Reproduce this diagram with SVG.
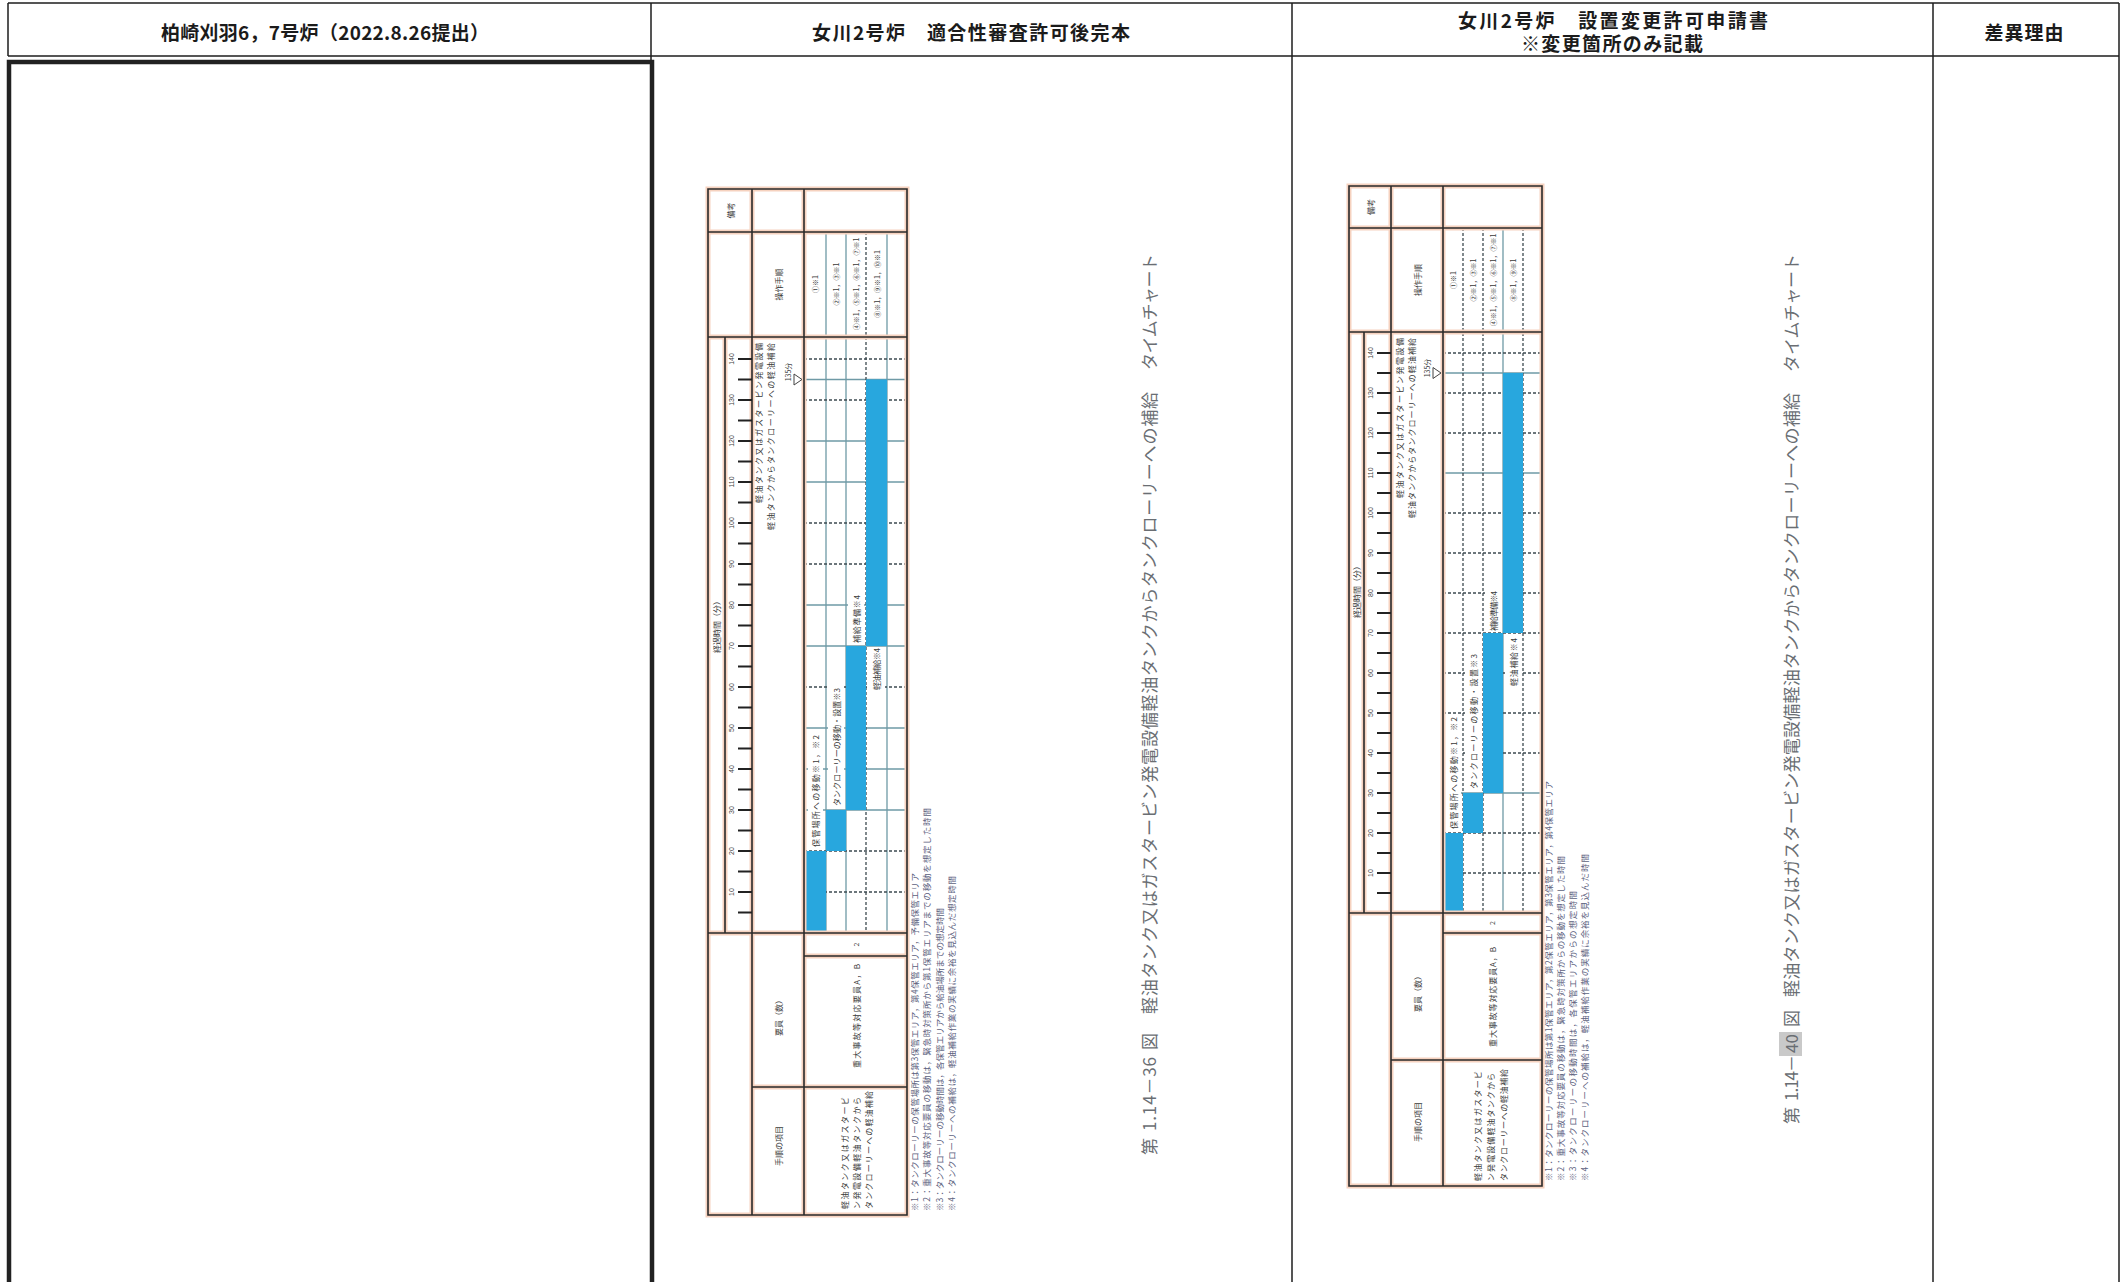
<svg xmlns="http://www.w3.org/2000/svg" xmlns:xlink="http://www.w3.org/1999/xlink" width="2123" height="1282" viewBox="0 0 2123 1282">
<defs>
<style>
.hdr{font-family:"Noto Sans CJK JP","Noto Sans",sans-serif;font-size:19px;font-weight:700;fill:#1b1b1b;text-anchor:middle;dominant-baseline:central}
.line{stroke:#1e1e1e;stroke-width:1.5;fill:none}
.thick{stroke:#222;stroke-width:4.5;fill:none}
.halo{stroke:#f6d2bf;stroke-width:5;fill:none}
.tl{stroke:#2a2a2a;stroke-width:1.6;fill:none}
.grid{stroke:#6f9aa6;stroke-width:1.3;fill:none}
.gridd{stroke:#3d4a50;stroke-width:1.3;fill:none;stroke-dasharray:3 2}
.tick{stroke:#222;stroke-width:1.8;fill:none}
.bar{fill:#28a7de}
.wb{fill:#fff}
.s{font-family:"Noto Sans CJK JP",sans-serif;font-size:8px;fill:#3a3a3a;dominant-baseline:central}
.m{text-anchor:middle}
.e{text-anchor:end}
.num{font-family:"Liberation Sans",sans-serif;font-size:7px;fill:#444;text-anchor:middle;dominant-baseline:central}
.fn{font-family:"Noto Sans CJK JP",sans-serif;font-size:8.5px;fill:#5d6280;dominant-baseline:central}
.cap{font-family:"Noto Sans CJK JP",sans-serif;font-size:17px;fill:#6a6e73;dominant-baseline:central}
.hl{fill:#c9c9c9}
.tri{fill:none;stroke:#444;stroke-width:1}
</style>
<path id="c1" d="M708,189H907V1215H708Z M752,189V1215 M804,189V1215 M708,232H907 M708,337H907 M708,933H907 M804,956H907 M752,1087H907 M725,337V933"/>
<path id="c2" d="M1349,186H1542V1186H1349Z M1391,186V1186 M1443,186V1186 M1349,228H1542 M1349,332H1542 M1349,913H1542 M1443,933H1542 M1391,1060H1542 M1364,332V913"/>
</defs>
<rect width="2123" height="1282" fill="#fff"/>

<g id="page-frame">
<path class="line" d="M8,3H2119 M8,3V56 M8,56H2119 M651,3V62 M1292,3V1282 M1933,3V1282 M2119,3V1282"/>
<path class="thick" d="M9,1290V62H652V1290"/>
</g>

<g id="headers">
<text class="hdr" x="325" y="31" textLength="328">柏崎刈羽6，7号炉（2022.8.26提出）</text>
<text class="hdr" x="971" y="31" textLength="318">女川2号炉　適合性審査許可後完本</text>
<text class="hdr" x="1613" y="19" textLength="310">女川2号炉　設置変更許可申請書</text>
<text class="hdr" x="1612" y="42" textLength="182">※変更箇所のみ記載</text>
<text class="hdr" x="2024" y="31" textLength="79">差異理由</text>
</g>

<g id="chart-36">
<g id="c1-grid">
<path class="grid" d="M804,810H907 M804,769H907 M804,728H907 M804,646H907 M804,605H907 M804,482H907 M804,441H907 M804,379.5H907 M826,232V933 M846,232V933 M887,232V933"/>
<path class="gridd" d="M804,892H907 M804,851H907 M804,687H907 M804,564H907 M804,523H907 M804,400H907 M804,359H907 M866,232V933"/>
</g>
<g id="c1-bars">
<rect class="bar" x="804" y="851" width="22" height="82"/>
<rect class="bar" x="826" y="810" width="20" height="41"/>
<rect class="bar" x="846" y="646" width="20" height="164"/>
<rect class="bar" x="866" y="379.5" width="21" height="266.5"/>
</g>
<g id="c1-labels">
<rect class="wb" x="808" y="733" width="15" height="116"/>
<rect class="wb" x="828" y="686" width="16" height="122"/>
<rect class="wb" x="848" y="593" width="16" height="51"/>
<rect class="wb" x="868" y="647" width="17" height="45"/>
<text class="s" transform="translate(815.5,847) rotate(-90)" textLength="112">保管場所への移動※1，※2</text>
<text class="s" transform="translate(836,806) rotate(-90)" textLength="118">タンクローリーの移動・設置※3</text>
<text class="s" transform="translate(856,643) rotate(-90)" textLength="48">補給準備※4</text>
<text class="s" transform="translate(876.5,690) rotate(-90)" textLength="42">軽油補給※4</text>
</g>
<use xlink:href="#c1" class="halo"/>
<use xlink:href="#c1" class="tl"/>
<path class="tick" d="M738,912.5H752 M738,892H752 M738,871.5H752 M738,851H752 M738,830.5H752 M738,810H752 M738,789.5H752 M738,769H752 M738,748.5H752 M738,728H752 M738,707.5H752 M738,687H752 M738,666.5H752 M738,646H752 M738,625.5H752 M738,605H752 M738,584.5H752 M738,564H752 M738,543.5H752 M738,523H752 M738,502.5H752 M738,482H752 M738,461.5H752 M738,441H752 M738,420.5H752 M738,400H752 M738,379.5H752 M738,359H752"/>
<g id="c1-scale">
<text class="num" transform="translate(731,892) rotate(-90)">10</text>
<text class="num" transform="translate(731,851) rotate(-90)">20</text>
<text class="num" transform="translate(731,810) rotate(-90)">30</text>
<text class="num" transform="translate(731,769) rotate(-90)">40</text>
<text class="num" transform="translate(731,728) rotate(-90)">50</text>
<text class="num" transform="translate(731,687) rotate(-90)">60</text>
<text class="num" transform="translate(731,646) rotate(-90)">70</text>
<text class="num" transform="translate(731,605) rotate(-90)">80</text>
<text class="num" transform="translate(731,564) rotate(-90)">90</text>
<text class="num" transform="translate(731,523) rotate(-90)">100</text>
<text class="num" transform="translate(731,482) rotate(-90)">110</text>
<text class="num" transform="translate(731,441) rotate(-90)">120</text>
<text class="num" transform="translate(731,400) rotate(-90)">130</text>
<text class="num" transform="translate(731,359) rotate(-90)">140</text>
</g>
<g id="c1-text">
<text class="s m" transform="translate(730,210.5) rotate(-90)">備考</text>
<text class="s m" transform="translate(778,284.5) rotate(-90)">操作手順</text>
<text class="s m" transform="translate(815,284) rotate(-90)" style="font-size:7px">①※1</text>
<text class="s m" transform="translate(836,284) rotate(-90)" style="font-size:7px">②※1，③※1</text>
<text class="s m" transform="translate(856,284) rotate(-90)" style="font-size:7px">④※1，⑤※1，⑥※1，⑦※1</text>
<text class="s m" transform="translate(876.5,284) rotate(-90)" style="font-size:7px">⑧※1，⑨※1，⑩※1</text>
<text class="s m" transform="translate(716.5,625) rotate(-90)">経過時間（分）</text>
<text class="s e" transform="translate(758,343) rotate(-90)" textLength="160">軽油タンク又はガスタービン発電設備</text>
<text class="s e" transform="translate(770,343) rotate(-90)" textLength="187">軽油タンクからタンクローリーへの軽油補給</text>
<text class="s m" transform="translate(788,372) rotate(-90)" style="font-size:7px">135分</text>
<polygon class="tri" points="794,374 794,385 802,379.5"/>
<text class="s m" transform="translate(856,944.5) rotate(-90)" style="font-size:7px">2</text>
<text class="s m" transform="translate(856,1016) rotate(-90)" textLength="104">重大事故等対応要員A，B</text>
<text class="s m" transform="translate(778,1016) rotate(-90)">要員（数）</text>
<text class="s m" transform="translate(778,1146) rotate(-90)">手順の項目</text>
<text class="s" transform="translate(844,1209) rotate(-90)" textLength="112">軽油タンク又はガスタービ</text>
<text class="s" transform="translate(856,1209) rotate(-90)" textLength="112">ン発電設備軽油タンクから</text>
<text class="s" transform="translate(868,1209) rotate(-90)" textLength="118">タンクローリーへの軽油補給</text>
</g>
<g id="c1-notes">
<text class="fn" transform="translate(914,1211) rotate(-90)" textLength="338">※1：タンクローリーの保管場所は第3保管エリア，第4保管エリア，予備保管エリア</text>
<text class="fn" transform="translate(926,1211) rotate(-90)" textLength="403">※2：重大事故等対応要員の移動は，緊急時対策所から第1保管エリアまでの移動を想定した時間</text>
<text class="fn" transform="translate(939,1211) rotate(-90)" textLength="303">※3：タンクローリーの移動時間は，各保管エリアから給油場所までの想定時間</text>
<text class="fn" transform="translate(951,1211) rotate(-90)" textLength="335">※4：タンクローリーへの補給は，軽油補給作業の実績に余裕を見込んだ想定時間</text>
</g>
<g id="c1-caption">
<text class="cap" transform="translate(1148,1155) rotate(-90)">第</text>
<text class="cap" transform="translate(1148,1131) rotate(-90)" textLength="74">1.14－36</text>
<text class="cap" transform="translate(1148,1050) rotate(-90)">図</text>
<text class="cap" transform="translate(1148,1014) rotate(-90)" textLength="622">軽油タンク又はガスタービン発電設備軽油タンクからタンクローリーへの補給</text>
<text class="cap" transform="translate(1148,370) rotate(-90)" textLength="116">タイムチャート</text>
</g>
</g>

<g id="chart-40">
<g id="c2-grid">
<path class="grid" d="M1443,793H1542 M1443,473H1542 M1443,373H1542 M1503,228V913"/>
<path class="gridd" d="M1443,873H1542 M1443,833H1542 M1443,753H1542 M1443,713H1542 M1443,673H1542 M1443,633H1542 M1443,593H1542 M1443,553H1542 M1443,513H1542 M1443,433H1542 M1443,393H1542 M1443,353H1542 M1463,228V913 M1483,228V913 M1523,228V913"/>
</g>
<g id="c2-bars">
<rect class="bar" x="1443" y="833" width="20" height="80"/>
<rect class="bar" x="1463" y="793" width="20" height="40"/>
<rect class="bar" x="1483" y="633" width="20" height="160"/>
<rect class="bar" x="1503" y="373" width="20" height="260"/>
</g>
<g id="c2-labels">
<rect class="wb" x="1445" y="715" width="16" height="116"/>
<rect class="wb" x="1465" y="652" width="16" height="139"/>
<rect class="wb" x="1485" y="589" width="16" height="43"/>
<rect class="wb" x="1505" y="636" width="16" height="52"/>
<text class="s" transform="translate(1453,829) rotate(-90)" textLength="112">保管場所への移動※1，※2</text>
<text class="s" transform="translate(1473,789) rotate(-90)" textLength="135">タンクローリーの移動・設置※3</text>
<text class="s" transform="translate(1493,631) rotate(-90)" textLength="40">補給準備※4</text>
<text class="s" transform="translate(1513,686) rotate(-90)" textLength="48">軽油補給※4</text>
</g>
<use xlink:href="#c2" class="halo"/>
<use xlink:href="#c2" class="tl"/>
<path class="tick" d="M1377,893H1391 M1377,873H1391 M1377,853H1391 M1377,833H1391 M1377,813H1391 M1377,793H1391 M1377,773H1391 M1377,753H1391 M1377,733H1391 M1377,713H1391 M1377,693H1391 M1377,673H1391 M1377,653H1391 M1377,633H1391 M1377,613H1391 M1377,593H1391 M1377,573H1391 M1377,553H1391 M1377,533H1391 M1377,513H1391 M1377,493H1391 M1377,473H1391 M1377,453H1391 M1377,433H1391 M1377,413H1391 M1377,393H1391 M1377,373H1391 M1377,353H1391"/>
<g id="c2-scale">
<text class="num" transform="translate(1370,873) rotate(-90)">10</text>
<text class="num" transform="translate(1370,833) rotate(-90)">20</text>
<text class="num" transform="translate(1370,793) rotate(-90)">30</text>
<text class="num" transform="translate(1370,753) rotate(-90)">40</text>
<text class="num" transform="translate(1370,713) rotate(-90)">50</text>
<text class="num" transform="translate(1370,673) rotate(-90)">60</text>
<text class="num" transform="translate(1370,633) rotate(-90)">70</text>
<text class="num" transform="translate(1370,593) rotate(-90)">80</text>
<text class="num" transform="translate(1370,553) rotate(-90)">90</text>
<text class="num" transform="translate(1370,513) rotate(-90)">100</text>
<text class="num" transform="translate(1370,473) rotate(-90)">110</text>
<text class="num" transform="translate(1370,433) rotate(-90)">120</text>
<text class="num" transform="translate(1370,393) rotate(-90)">130</text>
<text class="num" transform="translate(1370,353) rotate(-90)">140</text>
</g>
<g id="c2-text">
<text class="s m" transform="translate(1370,207) rotate(-90)">備考</text>
<text class="s m" transform="translate(1417,280) rotate(-90)">操作手順</text>
<text class="s m" transform="translate(1453,280) rotate(-90)" style="font-size:7px">①※1</text>
<text class="s m" transform="translate(1473,280) rotate(-90)" style="font-size:7px">②※1，③※1</text>
<text class="s m" transform="translate(1493,280) rotate(-90)" style="font-size:7px">④※1，⑤※1，⑥※1，⑦※1</text>
<text class="s m" transform="translate(1513,280) rotate(-90)" style="font-size:7px">⑧※1，⑨※1</text>
<text class="s m" transform="translate(1356.5,590) rotate(-90)">経過時間（分）</text>
<text class="s e" transform="translate(1399,338) rotate(-90)" textLength="160">軽油タンク又はガスタービン発電設備</text>
<text class="s e" transform="translate(1411,338) rotate(-90)" textLength="180">軽油タンクからタンクローリーへの軽油補給</text>
<text class="s m" transform="translate(1427,368) rotate(-90)" style="font-size:7px">135分</text>
<polygon class="tri" points="1433,367.5 1433,378.5 1441,373"/>
<text class="s m" transform="translate(1492,923) rotate(-90)" style="font-size:7px">2</text>
<text class="s m" transform="translate(1492,997) rotate(-90)" textLength="100">重大事故等対応要員A，B</text>
<text class="s m" transform="translate(1417,992) rotate(-90)">要員（数）</text>
<text class="s m" transform="translate(1417,1122) rotate(-90)">手順の項目</text>
<text class="s" transform="translate(1477,1181) rotate(-90)" textLength="110">軽油タンク又はガスタービ</text>
<text class="s" transform="translate(1490,1181) rotate(-90)" textLength="108">ン発電設備軽油タンクから</text>
<text class="s" transform="translate(1503,1181) rotate(-90)" textLength="112">タンクローリーへの軽油補給</text>
</g>
<g id="c2-notes">
<text class="fn" transform="translate(1548,1181) rotate(-90)" textLength="400">※1：タンクローリーの保管場所は第1保管エリア，第2保管エリア，第3保管エリア，第4保管エリア</text>
<text class="fn" transform="translate(1560,1181) rotate(-90)" textLength="325">※2：重大事故等対応要員の移動は，緊急時対策所からの移動を想定した時間</text>
<text class="fn" transform="translate(1572,1181) rotate(-90)" textLength="290">※3：タンクローリーの移動時間は，各保管エリアからの想定時間</text>
<text class="fn" transform="translate(1584,1181) rotate(-90)" textLength="327">※4：タンクローリーへの補給は，軽油補給作業の実績に余裕を見込んだ時間</text>
</g>
<g id="c2-caption">
<text class="cap" transform="translate(1790,1124) rotate(-90)">第</text>
<text class="cap" transform="translate(1790,1101) rotate(-90)" textLength="46">1.14－</text>
<rect class="hl" x="1779" y="1032" width="23" height="24"/>
<text class="cap" transform="translate(1790,1053) rotate(-90)" textLength="19">40</text>
<text class="cap" transform="translate(1790,1027) rotate(-90)">図</text>
<text class="cap" transform="translate(1790,997) rotate(-90)" textLength="604">軽油タンク又はガスタービン発電設備軽油タンクからタンクローリーへの補給</text>
<text class="cap" transform="translate(1790,372) rotate(-90)" textLength="118">タイムチャート</text>
</g>
</g>
</svg>
